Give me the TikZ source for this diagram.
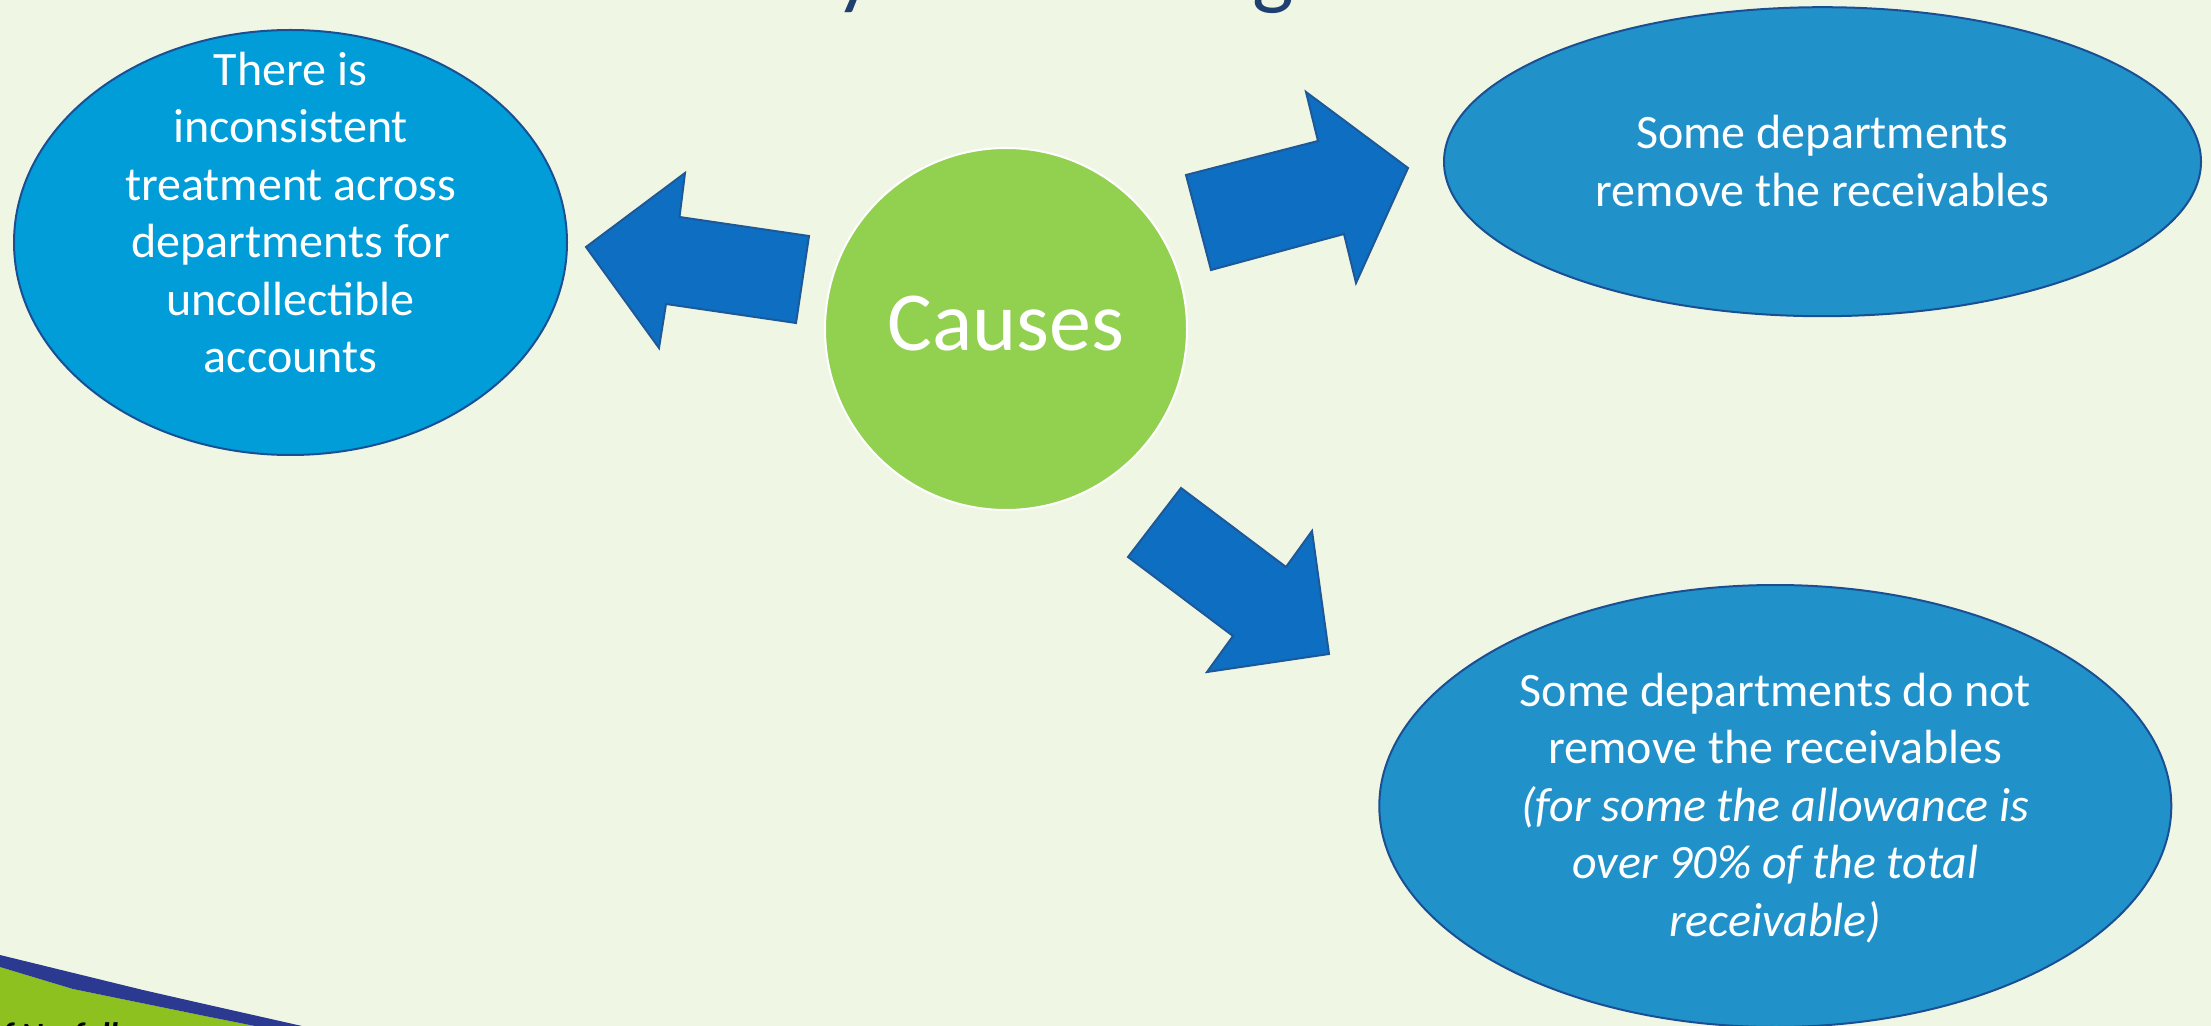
\documentclass[tikz,border=0pt]{standalone}
\usepackage{fontspec}
\setmainfont{Carlito}
\usetikzlibrary{shapes.geometric}
\definecolor{bg}{HTML}{EFF7E4}
\definecolor{cyanfill}{HTML}{009DD9}
\definecolor{bluefill}{HTML}{2191CA}
\definecolor{ellline}{HTML}{1B4F93}
\definecolor{arrowfill}{HTML}{0E6EC2}
\definecolor{arrowline}{HTML}{1D5898}
\definecolor{causegreen}{HTML}{92D050}
\definecolor{titleblue}{HTML}{1F3F6F}
\definecolor{decogreen}{HTML}{8CC11F}
\definecolor{deconavy}{HTML}{2B3990}
\begin{document}
\begin{tikzpicture}[x=0.5pt,y=-0.5pt,
  bubble/.style={ellipse, draw=ellline, line width=1pt, inner sep=0pt},
  bubbletext/.style={text=white, align=center, font=\fontsize{24}{28.75}\selectfont},
  blockarrow/.style={fill=arrowfill, draw=arrowline, line width=1pt, line join=miter}]
\useasboundingbox (0,0) rectangle (2211,1026);
\clip (0,0) rectangle (2211,1026);
\fill[bg] (0,0) rectangle (2211,1026);

% cut-off title descenders
\node[anchor=base, text=titleblue, font=\fontsize{44}{50}\selectfont, inner sep=0pt] (ty) at (855,-1) {y};
\node[anchor=base, text=titleblue, font=\fontsize{44}{50}\selectfont, inner sep=0pt] (tg) at (1273,-1) {g};

% bottom-left decoration
\fill[decogreen] (0,967) -- (73,989) -- (200,1015) -- (255,1026) -- (0,1026) -- cycle;
\fill[deconavy] (0,955) -- (143,990) -- (200,1003) -- (302,1026) -- (255,1026) -- (200,1015) -- (73,989) -- (0,967) -- cycle;
\node[anchor=base west, inner sep=0pt, font=\fontsize{17}{20}\selectfont\bfseries\itshape] (norfolk) at (2,1046) {f Norfolk};

% ellipses
\node[bubble, fill=cyanfill, minimum width=276.5pt, minimum height=212.5pt] (left) at (290.5,242.5) {};
\node[bubble, fill=bluefill, minimum width=378.5pt, minimum height=154.5pt] (topright) at (1822.5,161.7) {};
\node[bubble, fill=bluefill, minimum width=396pt, minimum height=221pt] (botright) at (1775.3,806) {};

\node[bubbletext] (lefttext) at (290.5,212.6) {There is\\inconsistent\\treatment across\\departments for\\uncollectible\\accounts};
\node[bubbletext] (trtext) at (1822.5,161) {Some departments\\remove the receivables};
\node[bubbletext] (brtext) at (1775.3,808) {Some departments do not\\remove the receivables\\\itshape(for some the allowance is\\\itshape over 90\% of the total\\\itshape receivable)};

% centre circle
\node[circle, fill=causegreen, draw=white, line width=1pt, minimum size=181pt, inner sep=0pt] (causes) at (1006,329) {};
\node[anchor=base, text=white, font=\fontsize{42}{50}\selectfont, inner sep=0pt] (causestext) at (1006,351) {Causes};

% block arrows
\draw[blockarrow] (586,247) -- (685,173) -- (679.5,217) -- (809,236) -- (796,323) -- (666,304) -- (659,348) -- cycle;
\draw[blockarrow] (1186,175) -- (1318,141) -- (1306,92) -- (1408,168) -- (1356,283) -- (1344,234) -- (1211,270) -- cycle;
\draw[blockarrow] (1181,488) -- (1286,567) -- (1312,531) -- (1329,654) -- (1207,672) -- (1233,636) -- (1128,557) -- cycle;
\end{tikzpicture}
\end{document}
